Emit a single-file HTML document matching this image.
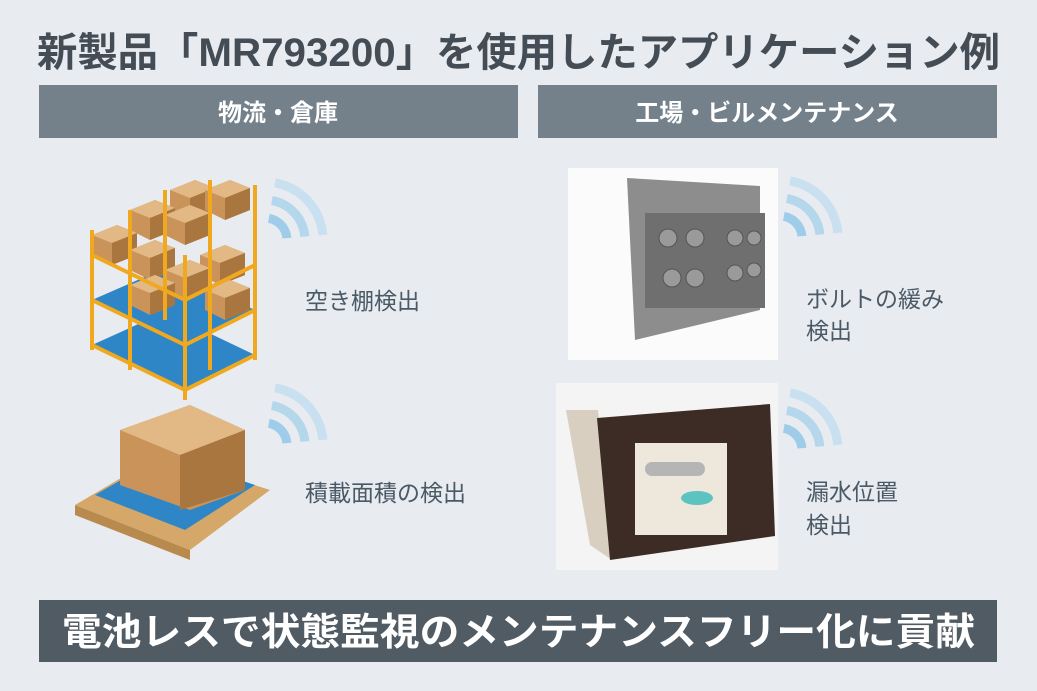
<!DOCTYPE html>
<html><head><meta charset="utf-8"><style>
html,body{margin:0;padding:0;background:#e8ebef;}
svg{display:block;}
text{font-family:"Liberation Sans","Noto Sans CJK JP",sans-serif;}
</style></head><body>
<svg width="1037" height="691" viewBox="0 0 1037 691" xmlns="http://www.w3.org/2000/svg">
<defs>
<g id="wifi" fill="none" stroke-linecap="butt">
<path d="M3.8,-21.7 A22,22 0 0 1 21.9,-1.9" stroke="#9fcde9" stroke-width="9"/>
<path d="M6.9,-39.4 A40,40 0 0 1 39.8,-3.5" stroke="#b4d7ec" stroke-width="9"/>
<path d="M10.1,-57.1 A58,58 0 0 1 57.8,-5.1" stroke="#c8e0ef" stroke-width="9"/>
</g>
<g id="box">
<polygon points="0,10 25,0 45,8 45,30 20,40 0,30" fill="#c9935a"/>
<polygon points="0,10 25,0 45,8 20,18" fill="#e2b985"/>
<polygon points="20,18 45,8 45,30 20,40" fill="#a9763f"/>
</g>
</defs>
<rect width="1037" height="691" fill="#e8ebef"/>
<text x="37" y="66" font-size="40" font-weight="bold" fill="#444d55" textLength="963" lengthAdjust="spacingAndGlyphs">新製品「MR793200」を使用したアプリケーション例</text>
<rect x="39" y="85" width="479" height="53" fill="#74818b"/>
<rect x="538" y="85" width="459" height="53" fill="#74818b"/>
<text x="278" y="121" font-size="24" font-weight="bold" fill="#fff" text-anchor="middle">物流・倉庫</text>
<text x="767" y="121" font-size="24" font-weight="bold" fill="#fff" text-anchor="middle">工場・ビルメンテナンス</text>

<!-- rack -->
<g>
<polygon points="92,300 185,345 255,310 165,268" fill="#2f86c6"/>
<polygon points="92,345 185,390 255,355 165,312" fill="#2f86c6"/>
<use href="#box" x="170" y="180"/><use href="#box" x="205" y="180"/>
<use href="#box" x="130" y="200"/><use href="#box" x="165" y="205"/>
<use href="#box" x="92" y="225"/><use href="#box" x="130" y="240"/>
<use href="#box" x="200" y="245"/><use href="#box" x="165" y="260"/>
<use href="#box" x="130" y="275"/><use href="#box" x="205" y="280"/>
<g stroke="#f0a81e" stroke-width="4">
<line x1="92" y1="230" x2="92" y2="350"/><line x1="130" y1="210" x2="130" y2="370"/>
<line x1="185" y1="255" x2="185" y2="400"/><line x1="165" y1="190" x2="165" y2="320"/>
<line x1="210" y1="180" x2="210" y2="370"/><line x1="255" y1="185" x2="255" y2="360"/>
<line x1="92" y1="300" x2="185" y2="345"/><line x1="185" y1="345" x2="255" y2="310"/>
<line x1="92" y1="345" x2="185" y2="390"/><line x1="185" y1="390" x2="255" y2="355"/>
<line x1="92" y1="255" x2="185" y2="300"/><line x1="185" y1="300" x2="255" y2="265"/>
</g>
</g>
<use href="#wifi" x="265" y="240"/>
<text x="305" y="309" font-size="23" fill="#4a5966">空き棚検出</text>

<!-- pallet -->
<polygon points="75,505 190,550 270,490 160,455" fill="#d5a86a"/>
<polygon points="75,505 190,550 190,560 75,515" fill="#b98a4e"/>
<polygon points="95,495 185,530 255,485 165,455" fill="#2f86c6"/>
<polygon points="120,430 190,405 245,430 245,490 190,510 120,485" fill="#c9935a"/>
<polygon points="120,430 190,405 245,430 180,455" fill="#e2b985"/>
<polygon points="180,455 245,430 245,490 180,510" fill="#a9763f"/>
<use href="#wifi" x="265" y="445"/>
<text x="305" y="501" font-size="23" fill="#4a5966">積載面積の検出</text>

<!-- bolt image -->
<rect x="568" y="168" width="210" height="192" fill="#fbfbfb"/>
<polygon points="627,178 760,186 760,310 635,340" fill="#8d8d8d"/>
<rect x="645" y="213" width="120" height="95" fill="#6f6f6f"/>
<g fill="#9a9a9a" stroke="#555" stroke-width="1">
<circle cx="668" cy="238" r="9"/><circle cx="695" cy="238" r="9"/><circle cx="735" cy="238" r="8"/><circle cx="754" cy="238" r="7"/>
<circle cx="672" cy="278" r="9"/><circle cx="695" cy="278" r="9"/><circle cx="735" cy="273" r="8"/><circle cx="754" cy="270" r="7"/>
</g>
<use href="#wifi" x="780" y="238"/>
<text x="806" y="307" font-size="23" fill="#4a5966">ボルトの緩み</text>
<text x="806" y="339" font-size="23" fill="#4a5966">検出</text>

<!-- leak image -->
<rect x="556" y="383" width="222" height="187" fill="#f4f4f4"/>
<polygon points="566,410 598,410 612,560 590,545" fill="#d9cfc0"/>
<polygon points="597,418 770,404 775,536 610,560" fill="#3c2c25"/>
<rect x="635" y="443" width="92" height="92" fill="#eee8dc"/>
<rect x="645" y="462" width="60" height="14" rx="7" fill="#b5b5b5"/>
<ellipse cx="697" cy="498" rx="16" ry="7" fill="#5cc3c0"/>
<use href="#wifi" x="780" y="450"/>
<text x="806" y="500" font-size="23" fill="#4a5966">漏水位置</text>
<text x="806" y="533" font-size="23" fill="#4a5966">検出</text>

<rect x="39" y="600" width="958" height="62" fill="#505b64"/>
<text x="62" y="645" font-size="38" font-weight="bold" fill="#fff" textLength="913" lengthAdjust="spacingAndGlyphs">電池レスで状態監視のメンテナンスフリー化に貢献</text>
</svg>
</body></html>
